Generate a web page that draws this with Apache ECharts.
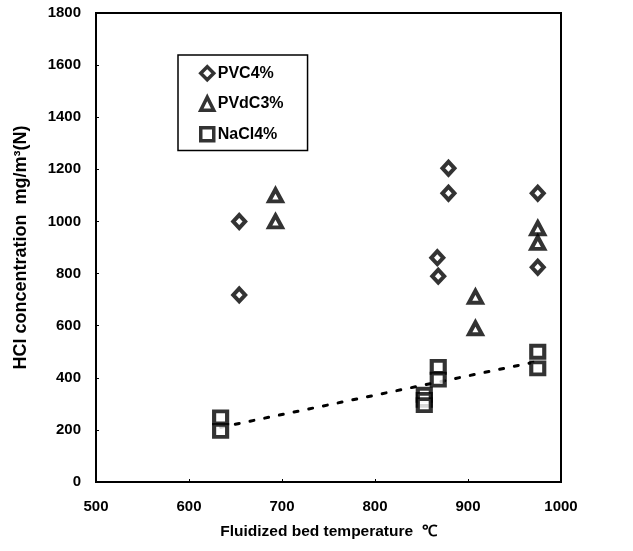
<!DOCTYPE html>
<html>
<head>
<meta charset="utf-8">
<script src="https://cdn.jsdelivr.net/npm/echarts@6/dist/echarts.min.js"></script>
<style>html,body{margin:0;padding:0;background:#fff;}#c{width:633px;height:551px;}</style>
</head>
<body>
<div id="c"></div>
<script>
var xTicks = [500, 600, 700, 800, 900, 1000];
var yTicks = [0, 200, 400, 600, 800, 1000, 1200, 1400, 1600, 1800];
var seriesNames = ['PVC4%', 'PVdC3%', 'NaCl4%'];
var pvcX = [654, 654, 867, 868, 879, 879, 975, 975];
var pvcY = [1000, 718, 861, 790, 1204, 1108, 1108, 824];
var pvdcX = [693, 693, 908, 908, 975, 975];
var pvdcY = [1100, 1000, 711, 590, 974, 918];
var naclX = [634, 634, 853, 853, 853, 868, 868, 975, 975];
var naclY = [248, 196, 335, 315, 295, 442, 393, 500, 436];
var trendX = [634, 975];
var trendY = [210, 463];

function pairs(xs, ys) { return xs.map(function (x, i) { return [x, ys[i]]; }); }

var FONT = "'Liberation Sans', Arial, sans-serif";
var chart = echarts.init(document.getElementById('c'), null, { renderer: 'canvas' });
var mk = { color: '#fff', borderColor: '#000', borderWidth: 4 };
chart.setOption({
  animation: false,
  backgroundColor: '#fff',
  grid: { left: 96, right: 72, top: 13, bottom: 69, show: true, borderColor: '#000', borderWidth: 2, backgroundColor: 'transparent' },
  legend: {
    data: seriesNames,
    orient: 'vertical',
    left: 178, top: 55,
    padding: [10, 24, 8, 21],
    itemGap: 14,
    itemWidth: 13, itemHeight: 13,
    itemStyle: { color: '#fff', borderColor: '#000', borderWidth: 3.5 },
    borderColor: '#000', borderWidth: 1.5,
    textStyle: { fontFamily: FONT, fontSize: 16, fontWeight: 'bold', color: '#000', padding: [0, 0, 0, -1] }
  },
  xAxis: {
    type: 'value', min: xTicks[0], max: xTicks[xTicks.length - 1], interval: 100,
    name: 'Fluidized bed temperature  \u2103', nameLocation: 'middle', nameGap: 42,
    nameTextStyle: { fontFamily: FONT, fontSize: 15.5, fontWeight: 'bold', color: '#000' },
    axisLine: { lineStyle: { color: '#000', width: 2 } },
    axisTick: { inside: true, length: 3, lineStyle: { color: '#000' } },
    axisLabel: { fontFamily: FONT, fontSize: 15, fontWeight: 'bold', color: '#000', margin: 17,
      formatter: function (v) { return String(v); } },
    splitLine: { show: false }
  },
  yAxis: {
    type: 'value', min: yTicks[0], max: yTicks[yTicks.length - 1], interval: 200,
    name: 'HCl concentration  mg/m\u00B3(N)', nameLocation: 'middle', nameGap: 66,
    nameTextStyle: { fontFamily: FONT, fontSize: 18, fontWeight: 'bold', color: '#000' },
    axisLine: { lineStyle: { color: '#000', width: 2 } },
    axisTick: { inside: true, length: 3, lineStyle: { color: '#000' } },
    axisLabel: { fontFamily: FONT, fontSize: 15, fontWeight: 'bold', color: '#000', margin: 15,
      formatter: function (v) { return String(v); } },
    splitLine: { show: false }
  },
  series: [
    { name: 'trend', type: 'line', data: pairs(trendX, trendY), symbol: 'none', z: 1,
      lineStyle: { color: '#000', width: 3, type: [4, 11], cap: 'round' } },
    { name: seriesNames[0], type: 'scatter', data: pairs(pvcX, pvcY), symbol: 'diamond', symbolSize: [12, 13], itemStyle: mk, z: 3 },
    { name: seriesNames[1], type: 'scatter', data: pairs(pvdcX, pvdcY), symbol: 'triangle', symbolSize: [13, 12], itemStyle: mk, z: 3 },
    { name: seriesNames[2], type: 'scatter', data: pairs(naclX, naclY), symbol: 'rect', symbolSize: [13, 12], itemStyle: mk, z: 3 }
  ]
});
</script>
</body>
</html>
